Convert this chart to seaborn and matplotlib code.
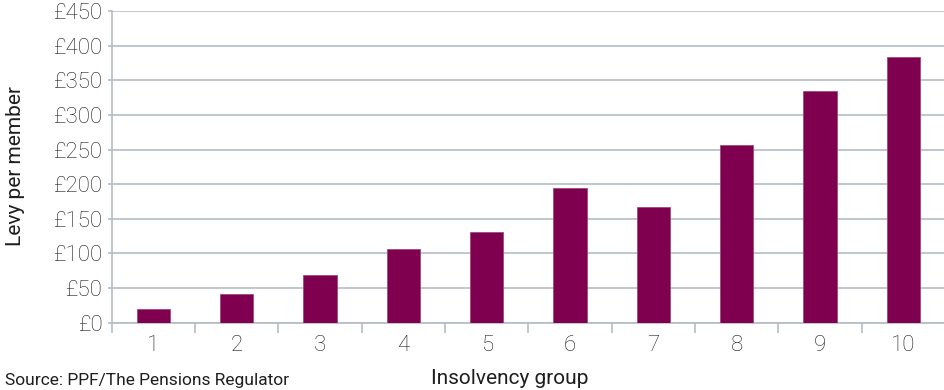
import matplotlib
matplotlib.use("Agg")
import matplotlib.pyplot as plt
import numpy as np
import pandas as pd
import seaborn as sns

# Levy per member by insolvency group
groups = ["1", "2", "3", "4", "5", "6", "7", "8", "9", "10"]
levy = [20, 41, 69, 107, 131, 195, 167, 257, 334, 384]
y_ticks = [0, 50, 100, 150, 200, 250, 300, 350, 400, 450]
y_tick_labels = ["£" + str(v) for v in y_ticks]

bar_color = "#7f004f"
grid_color = "#b4bcc5"
text_color = "#1e1e1e"

sns.set_theme(style="white")
plt.rcParams["font.family"] = ["Roboto", "DejaVu Sans"]

fig = plt.figure(figsize=(9.44, 3.90), dpi=100)
ax = fig.add_axes([0.1183, 0.1726, 0.8827, 0.7992])

df = pd.DataFrame({"group": groups, "levy": levy})
sns.barplot(data=df, x="group", y="levy", color=bar_color, saturation=1,
            width=0.4, edgecolor="#a04a80", linewidth=0.6, ax=ax, zorder=3)

ax.set_xlim(-0.5, len(groups) - 0.5)
ax.set_ylim(0, 450)
ax.set_yticks(y_ticks)
ax.set_yticklabels(y_tick_labels, fontsize=16, color=text_color, fontweight="light")
ax.yaxis.grid(True, color=grid_color, linewidth=1.2, zorder=0)
ax.set_axisbelow(True)

# category separators on the x axis
ax.set_xticks(np.arange(len(groups)))
ax.set_xticklabels(groups, fontsize=16, color=text_color, fontweight="light")
ax.set_xticks(np.arange(len(groups) + 1) - 0.5, minor=True)
ax.tick_params(axis="x", which="major", length=0, pad=9)
ax.tick_params(axis="x", which="minor", length=7, width=1.2, color=grid_color, direction="out", bottom=True)
ax.tick_params(axis="y", which="major", length=3, width=1.2, color=grid_color, direction="out", left=True, pad=3)

for side in ["top", "right"]:
    ax.spines[side].set_visible(False)
for side in ["left", "bottom"]:
    ax.spines[side].set_color(grid_color)
    ax.spines[side].set_linewidth(1.2)

ax.set_xlabel("")
ax.set_ylabel("")
fig.text(0.016, 0.574, "Levy per member", rotation=90, ha="center", va="center",
         fontsize=15, color=text_color)
fig.text(0.540, 0.030, "Insolvency group", ha="center", va="center",
         fontsize=15, color=text_color)
fig.text(0.005, 0.004, "Source: PPF/The Pensions Regulator", ha="left", va="bottom",
         fontsize=12.5, color=text_color)

fig.savefig("out.png", dpi=100)
